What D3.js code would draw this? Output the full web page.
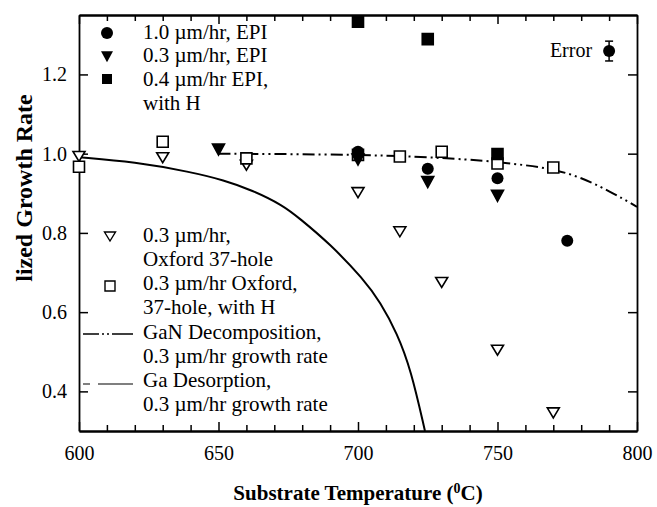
<!DOCTYPE html>
<html>
<head>
<meta charset="utf-8">
<script src="https://cdn.jsdelivr.net/npm/d3@7"></script>
<style>
  body { margin: 0; background: #fff; }
  text { font-family: 'Liberation Serif', 'Times New Roman', serif; fill: #000; }
</style>
</head>
<body>
<div class="main"></div>
<script>
// 1.0 um/hr EPI (filled circles)
let tEpi10 = [700, 725, 750, 775]
let rEpi10 = [1.005, 0.962, 0.938, 0.78]
// 0.3 um/hr EPI (filled down triangles)
let tEpi03 = [650, 700, 725, 750]
let rEpi03 = [1.015, 0.99, 0.933, 0.898]
// 0.4 um/hr EPI with H (filled squares)
let tEpi04H = [700, 725, 750]
let rEpi04H = [1.333, 1.289, 0.999]
// 0.3 um/hr Oxford 37-hole (open down triangles)
let tOx = [600, 630, 660, 700, 715, 730, 750, 770]
let rOx = [0.997, 0.994, 0.975, 0.906, 0.807, 0.679, 0.508, 0.35]
// 0.3 um/hr Oxford 37-hole with H (open squares)
let tOxH = [600, 630, 660, 700, 715, 730, 750, 770]
let rOxH = [0.967, 1.03, 0.988, 0.997, 0.993, 1.005, 0.975, 0.965]
// model curves
let tGaN = [650, 675, 700, 720, 740, 750, 760, 770, 780, 790, 800]
let rGaN = [1.0, 0.999, 0.997, 0.993, 0.985, 0.979, 0.971, 0.961, 0.94, 0.906, 0.866]
let tGaDes = [600, 620, 640, 652, 662, 673, 679, 690, 702, 708, 714, 719, 724]
let rGaDes = [0.991, 0.979, 0.954, 0.933, 0.908, 0.870, 0.837, 0.772, 0.683, 0.625, 0.547, 0.454, 0.30]
// error example
let tErr = [790]
let rErr = [1.259]
let eErr = [0.025]

let xTicks = [600, 650, 700, 750, 800]
let yTicks = [0.4, 0.6, 0.8, 1.0, 1.2]

let W = 657, H = 507
let margin = {top: 15, right: 20, bottom: 76, left: 79}
let width = W - margin.left - margin.right
let height = H - margin.top - margin.bottom

let svg = d3.select('.main').append('svg')
  .attr('width', W).attr('height', H)

let xScale = d3.scaleLinear().domain([600, 800]).range([0, width])
let yScale = d3.scaleLinear().domain([0.3, 1.35]).range([height, 0])

let g = svg.append('g').attr('transform', `translate(${margin.left}, ${margin.top})`)

g.append('clipPath').attr('id', 'plotclip')
  .append('rect').attr('width', width).attr('height', height)

let minorX = d3.range(600, 801, 10).filter(d => d % 50 !== 0)

function styleAxis(sel) {
  sel.select('.domain').attr('stroke-width', 1.8)
  sel.selectAll('.tick line').attr('stroke-width', 1.5)
  sel.selectAll('text').style('font-size', '20px').style('font-family', "'Liberation Serif', serif")
}

// bottom axis
g.append('g').attr('transform', `translate(0, ${height})`)
  .call(d3.axisBottom(xScale).tickValues(xTicks).tickFormat(d3.format('d')).tickSizeInner(-9).tickSizeOuter(0).tickPadding(15))
  .call(styleAxis)
g.append('g').attr('transform', `translate(0, ${height})`)
  .call(d3.axisBottom(xScale).tickValues(minorX).tickFormat('').tickSizeInner(-6).tickSizeOuter(0))
  .call(styleAxis)
// top axis
g.append('g')
  .call(d3.axisTop(xScale).tickValues(xTicks).tickFormat('').tickSizeInner(-9).tickSizeOuter(0))
  .call(styleAxis)
g.append('g')
  .call(d3.axisTop(xScale).tickValues(minorX).tickFormat('').tickSizeInner(-6).tickSizeOuter(0))
  .call(styleAxis)
// left axis
g.append('g')
  .call(d3.axisLeft(yScale).tickValues(yTicks).tickFormat(d3.format('.1f')).tickSizeInner(-9).tickSizeOuter(0).tickPadding(12))
  .call(styleAxis)
// right axis
g.append('g').attr('transform', `translate(${width}, 0)`)
  .call(d3.axisRight(yScale).tickValues(yTicks).tickFormat('').tickSizeInner(-9).tickSizeOuter(0))
  .call(styleAxis)

// curves
let line = d3.line().x(d => xScale(d[0])).y(d => yScale(d[1])).curve(d3.curveBasis)

g.append('path')
  .attr('clip-path', 'url(#plotclip)')
  .attr('d', line(d3.zip(tGaDes, rGaDes)))
  .attr('fill', 'none').attr('stroke', '#000').attr('stroke-width', 2)

g.append('path')
  .attr('d', line(d3.zip(tGaN, rGaN)))
  .attr('fill', 'none').attr('stroke', '#000').attr('stroke-width', 2)
  .attr('stroke-dasharray', '12,4,2,4,2,4')

// marker shapes (relative to the point)
let triDown = (w, h) => `M${-w / 2},${-h / 3}L${w / 2},${-h / 3}L0,${2 * h / 3}Z`
let square = s => `M${-s / 2},${-s / 2}h${s}v${s}h${-s}Z`

function markers(ts, rs, path, fill) {
  g.append('g').selectAll('path').data(d3.zip(ts, rs)).enter().append('path')
    .attr('transform', d => `translate(${xScale(d[0])}, ${yScale(d[1])})`)
    .attr('d', path)
    .attr('fill', fill ? '#000' : '#fff')
    .attr('stroke', '#000').attr('stroke-width', 1.6)
}

markers(tOx, rOx, triDown(12, 10), false)
markers(tOxH, rOxH, square(11), false)
markers(tEpi04H, rEpi04H, square(11), true)
markers(tEpi03, rEpi03, triDown(12, 11), true)

g.append('g').selectAll('circle').data(d3.zip(tEpi10, rEpi10)).enter().append('circle')
  .attr('cx', d => xScale(d[0])).attr('cy', d => yScale(d[1]))
  .attr('r', 6).attr('fill', '#000')

// error example
let errG = g.append('g')
let errData = d3.zip(tErr, rErr, eErr)
errG.selectAll('line.bar').data(errData).enter().append('line')
  .attr('x1', d => xScale(d[0])).attr('x2', d => xScale(d[0]))
  .attr('y1', d => yScale(d[1] - d[2])).attr('y2', d => yScale(d[1] + d[2]))
  .attr('stroke', '#000').attr('stroke-width', 1.5)
errG.selectAll('line.capt').data(errData).enter().append('line')
  .attr('x1', d => xScale(d[0]) - 4).attr('x2', d => xScale(d[0]) + 4)
  .attr('y1', d => yScale(d[1] + d[2])).attr('y2', d => yScale(d[1] + d[2]))
  .attr('stroke', '#000').attr('stroke-width', 1.5)
errG.selectAll('line.capb').data(errData).enter().append('line')
  .attr('x1', d => xScale(d[0]) - 4).attr('x2', d => xScale(d[0]) + 4)
  .attr('y1', d => yScale(d[1] - d[2])).attr('y2', d => yScale(d[1] - d[2]))
  .attr('stroke', '#000').attr('stroke-width', 1.5)
errG.selectAll('circle').data(d3.zip(tErr, rErr)).enter().append('circle')
  .attr('cx', d => xScale(d[0])).attr('cy', d => yScale(d[1]))
  .attr('r', 6).attr('fill', '#000')
errG.append('text')
  .attr('x', xScale(tErr[0]) - 17).attr('y', yScale(rErr[0]) + 6)
  .attr('text-anchor', 'end').style('font-size', '20px')
  .text('Error')

// legends
let leg = svg.append('g')
let legText = (x, y, s) => leg.append('text').attr('x', x).attr('y', y).style('font-size', '21px').text(s)

leg.append('circle').attr('cx', 107).attr('cy', 33).attr('r', 6).attr('fill', '#000')
legText(143, 39, '1.0 µm/hr, EPI')
leg.append('path').attr('transform', 'translate(107, 55)').attr('d', triDown(12, 11)).attr('fill', '#000')
legText(143, 62, '0.3 µm/hr, EPI')
leg.append('path').attr('transform', 'translate(107, 79)').attr('d', square(10)).attr('fill', '#000')
legText(143, 86, '0.4 µm/hr EPI,')
legText(143, 110, 'with H')

leg.append('path').attr('transform', 'translate(110, 235)').attr('d', triDown(11, 9))
  .attr('fill', '#fff').attr('stroke', '#000').attr('stroke-width', 1.4)
legText(143, 242, '0.3 µm/hr,')
legText(143, 266, 'Oxford 37-hole')
leg.append('path').attr('transform', 'translate(110, 286)').attr('d', square(10))
  .attr('fill', '#fff').attr('stroke', '#000').attr('stroke-width', 1.4)
legText(143, 290, '0.3 µm/hr Oxford,')
legText(143, 314, '37-hole, with H')
leg.append('line').attr('x1', 83).attr('x2', 133).attr('y1', 334).attr('y2', 334)
  .attr('stroke', '#000').attr('stroke-width', 1.6).attr('stroke-dasharray', '16,3,2,3,2,3,30')
legText(143, 339, 'GaN Decomposition,')
legText(143, 363, '0.3 µm/hr growth rate')
leg.append('line').attr('x1', 83).attr('x2', 133).attr('y1', 384).attr('y2', 384)
  .attr('stroke', '#000').attr('stroke-width', 1.2).attr('stroke-dasharray', '7,8,35')
legText(143, 387, 'Ga Desorption,')
legText(143, 411, '0.3 µm/hr growth rate')

// axis titles
svg.append('text')
  .attr('x', margin.left + width / 2).attr('y', 500)
  .attr('text-anchor', 'middle')
  .style('font-size', '21px').style('font-weight', 'bold')
  .text('Substrate Temperature (')
  .append('tspan').attr('dy', -7).style('font-size', '14px').text('0')
  .select(function () { return this.parentNode })
  .append('tspan').attr('dy', 7).text('C)')

svg.append('text')
  .attr('transform', 'translate(32, 188) rotate(-90)')
  .attr('text-anchor', 'middle')
  .style('font-size', '24px').style('font-weight', 'bold')
  .text('lized Growth Rate')
</script>
</body>
</html>
